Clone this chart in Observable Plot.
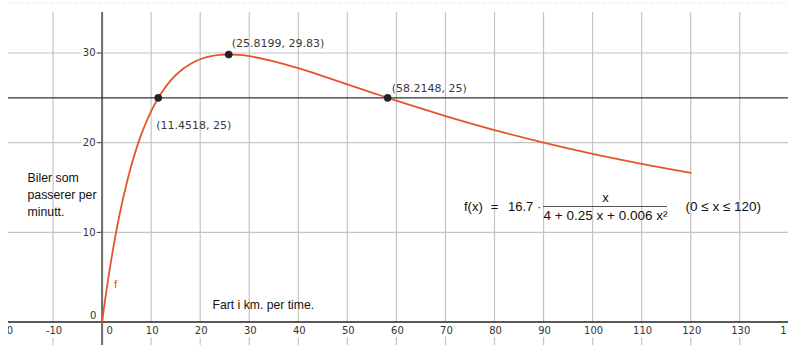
<!DOCTYPE html>
<html>
<head>
<meta charset="utf-8">
<script src="https://cdn.jsdelivr.net/npm/d3@7"></script>
<script src="https://cdn.jsdelivr.net/npm/@observablehq/plot@0.6"></script>
<style>
  html, body { margin: 0; padding: 0; background: #fff; }
  #chart svg { display: block; }
</style>
</head>
<body>
<div id="chart"></div>
<script>
// ---- data ----
const speed = [0, 0.5, 1, 1.5, 2, 3, 4, 5, 6, 7, 8, 10, 12, 14, 16, 18, 20, 22, 24, 26, 28, 30, 35, 40, 45, 50, 55, 60, 70, 80, 90, 100, 110, 120];
const carsPerMin = [0, 2.02, 3.92, 5.71, 7.38, 10.43, 13.11, 15.46, 17.53, 19.34, 20.93, 23.52, 25.48, 26.95, 28.02, 28.78, 29.30, 29.62, 29.79, 29.83, 29.78, 29.65, 29.08, 28.31, 27.43, 26.51, 25.59, 24.68, 22.97, 21.41, 20.01, 18.76, 17.65, 16.64];
const pointX = [11.4518, 25.8199, 58.2148];
const pointY = [25, 29.83, 25];
const pointLabels = ["(11.4518, 25)", "(25.8199, 29.83)", "(58.2148, 25)"];
const xTickValues = [-20, -10, 0, 10, 20, 30, 40, 50, 60, 70, 80, 90, 100, 110, 120, 130, 140];
const yTickValues = [0, 10, 20, 30];
const xGridValues = [-10, 10, 20, 30, 40, 50, 60, 70, 80, 90, 100, 110, 120, 130];
const yGridValues = [10, 20, 30];
const refLevel = 25;
const yTitleLines = ["Biler som", "passerer per", "minutt."];
const xTitle = "Fart i km. per time.";
const funcName = "f";
const formulaLeft = "f(x)";
const formulaEq = "=";
const formulaCoef = "16.7 ·";
const formulaNum = "x";
const formulaDen = "4 + 0.25 x + 0.006 x²";
const formulaDomain = "(0 ≤ x ≤ 120)";

// ---- layout helpers (pixel -> data) ----
const X0 = 101.6, KX = 4.905, Y0 = 321.6, KY = 8.97;
const px = p => (p - X0) / KX;
const py = p => (Y0 - p) / KY;

const curve = speed.map((s, i) => ({s, v: carsPerMin[i]}));
const pts = pointX.map((x, i) => ({x, y: pointY[i], label: pointLabels[i]}));
const labelOffsets = [[-2, 28], [3, -11], [4, -9]];

const ORANGE = "#e4562a";
const GRID = "#c4c4c4";
const halo = {stroke: "white", strokeWidth: 7, paintOrder: "stroke"};

const chart = Plot.plot({
  width: 807,
  height: 352,
  marginLeft: 8,
  marginRight: 20,
  marginTop: 2,
  marginBottom: 0,
  x: {domain: [px(8), px(787)], axis: null},
  y: {domain: [py(352), py(2)], axis: null},
  style: {fontFamily: "DejaVu Sans", background: "white"},
  marks: [
    // top dotted border
    Plot.ruleY([py(2.5)], {x1: px(8), x2: px(788), stroke: "#cfcfcf", strokeDasharray: "1,2", strokeWidth: 1}),
    // grid
    Plot.ruleX(xGridValues, {y1: py(12), y2: py(345), stroke: GRID, strokeWidth: 1.2}),
    Plot.ruleY(yGridValues, {x1: px(8), x2: px(788), stroke: GRID, strokeWidth: 1.2}),
    // x tick labels
    Plot.text(xTickValues.filter(d => d !== 0), {x: d => d, y: 0, dy: 9, dx: 1, text: d => String(d),
      fontSize: 10, fill: "#333", clip: true, ...halo}),
    Plot.text([0], {x: d => d, y: 0, dy: 9, dx: 7.5, text: d => String(d), fontSize: 10, fill: "#333", ...halo}),
    // y tick labels
    Plot.text(yTickValues.filter(d => d !== 0), {x: 0, y: d => d, dx: -6.5, textAnchor: "end", text: d => String(d),
      fontSize: 10, fill: "#333", ...halo}),
    Plot.text([0], {x: 0, y: d => d, dx: -9, dy: -6, text: d => String(d), fontSize: 10, fill: "#333", ...halo}),
    // y tick dashes
    Plot.ruleY(yGridValues, {x1: px(96.7), x2: 0, stroke: "#444", strokeWidth: 1}),
    // axes
    Plot.ruleX([0], {y1: py(12), y2: py(345), stroke: "#6c6c6c", strokeWidth: 2}),
    Plot.ruleY([0], {x1: px(8), x2: px(788), stroke: "#222", strokeWidth: 1.5}),
    // reference line y = 25
    Plot.ruleY([refLevel], {x1: px(8), x2: px(788), stroke: "#333", strokeWidth: 1.3}),
    // function curve
    Plot.line(curve, {x: "s", y: "v", stroke: ORANGE, strokeWidth: 1.8, curve: "catmull-rom"}),
    // marked points
    Plot.dot(pts, {x: "x", y: "y", r: 3.6, fill: "#222", stroke: "#111", strokeWidth: 0.5}),
    ...pts.map((p, i) => Plot.text([p], {x: "x", y: "y", text: "label", textAnchor: "start",
      dx: labelOffsets[i][0], dy: labelOffsets[i][1], fontSize: 11, fill: "#3a3a3a", ariaLabel: "coord-label"})),
    // function name
    Plot.text([funcName], {x: px(115), y: py(284), text: d => d, fill: ORANGE, fontSize: 11.5,
      fontFamily: "Liberation Sans"}),
    // axis titles
    Plot.text([yTitleLines.join("\n")], {x: px(27), y: py(193.3), text: d => d, textAnchor: "start",
      lineAnchor: "middle", lineHeight: 1.36, fontSize: 12.3, fontFamily: "Liberation Sans", fill: "#111"}),
    Plot.text([xTitle], {x: px(212), y: py(305), text: d => d, textAnchor: "start", fontSize: 12.2,
      fontFamily: "Liberation Sans", fill: "#111"}),
    // formula
    Plot.text([formulaLeft], {x: px(463.5), y: py(206.5), text: d => d, textAnchor: "start", fontSize: 13,
      fontFamily: "Liberation Sans", fill: "#111"}),
    Plot.text([formulaEq], {x: px(494), y: py(206.5), text: d => d, fontSize: 13,
      fontFamily: "Liberation Sans", fill: "#111"}),
    Plot.text([formulaCoef], {x: px(507.5), y: py(206.5), text: d => d, textAnchor: "start", fontSize: 13,
      fontFamily: "Liberation Sans", fill: "#111"}),
    Plot.text([formulaNum], {x: px(605), y: py(197.5), text: d => d, fontSize: 13,
      fontFamily: "Liberation Sans", fill: "#111"}),
    Plot.ruleY([py(206)], {x1: px(543), x2: px(667), stroke: "#555", strokeWidth: 1}),
    Plot.text([formulaDen], {x: px(605), y: py(215.5), text: d => d, fontSize: 13.5,
      fontFamily: "Liberation Sans", fill: "#111"}),
    Plot.text([formulaDomain], {x: px(685), y: py(206.5), text: d => d, textAnchor: "start", fontSize: 13.5,
      fontFamily: "Liberation Sans", fill: "#111"})
  ]
});

document.getElementById("chart").appendChild(chart);
d3.select(chart).selectAll('g[aria-label="coord-label"] text').style("letter-spacing", "0.6px");
</script>
</body>
</html>
